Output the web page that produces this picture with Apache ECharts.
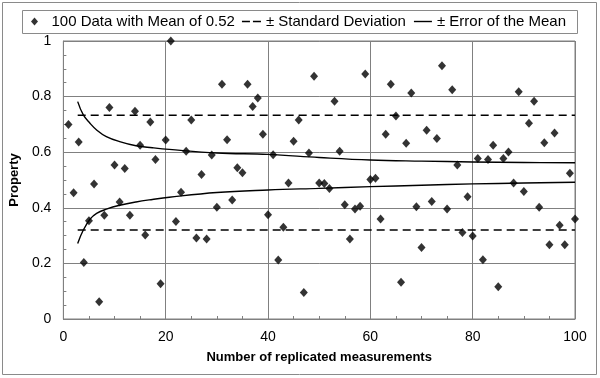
<!DOCTYPE html>
<html>
<head>
<meta charset="utf-8">
<script src="https://cdn.jsdelivr.net/npm/echarts@6/dist/echarts.min.js"></script>
<style>
html,body{margin:0;padding:0;background:#fff;}
#chart{width:600px;height:378px;}
</style>
</head>
<body>
<div id="chart"></div>
<script>
// Measurement values (measurement number = index + 1)
var dataValues = [
  0.700,0.454,0.637,0.203,0.353,0.486,0.062,0.373,0.761,0.554,
  0.421,0.541,0.373,0.747,0.625,0.302,0.709,0.574,0.127,0.644,
  1.000,0.351,0.456,0.603,0.716,0.291,0.520,0.288,0.590,0.402,
  0.844,0.645,0.428,0.544,0.526,0.844,0.764,0.795,0.665,0.375,
  0.591,0.212,0.330,0.489,0.639,0.716,0.095,0.597,0.873,0.489,
  0.487,0.469,0.783,0.603,0.411,0.288,0.396,0.406,0.881,0.502,
  0.506,0.360,0.665,0.844,0.730,0.132,0.632,0.813,0.404,0.257,
  0.679,0.423,0.649,0.911,0.396,0.825,0.554,0.311,0.440,0.299,
  0.577,0.213,0.574,0.625,0.116,0.577,0.601,0.489,0.817,0.459,
  0.704,0.783,0.402,0.634,0.267,0.669,0.337,0.267,0.524,0.360
];
// Standard deviation band
var sdX = [2.8, 100];
var sdUpper = [0.733, 0.733];
var sdLower = [0.320, 0.320];
// Error of the mean curves
var errX     = [2.8, 3.9, 5.2, 6.5, 8.4, 11, 14.2, 17.4, 20.7, 30, 40, 50, 60, 70, 80, 90, 100];
var errUpper = [0.782,0.734,0.704,0.680,0.656,0.638,0.623,0.616,0.610,0.597,0.592,0.581,0.572,0.568,0.565,0.563,0.562];
var errLower = [0.272,0.320,0.359,0.380,0.395,0.409,0.421,0.430,0.438,0.455,0.464,0.470,0.476,0.481,0.486,0.489,0.492];
// Axis ticks
var xTicks = [0, 20, 40, 60, 80, 100];
var yTicks = [0, 0.2, 0.4, 0.6, 0.8, 1];

var nameData = '100 Data with Mean of 0.52';
var nameSD = '\u00B1 Standard Deviation';
var nameErr = '\u00B1 Error of the Mean';

function pairs(xs, ys){ return xs.map(function(x,i){ return [x, ys[i]]; }); }
var scatterData = dataValues.map(function(v,i){ return [i+1, v]; });

var FONT = '"Liberation Sans", Arial, sans-serif';
var chart = echarts.init(document.getElementById('chart'), null, {renderer:'canvas'});
chart.setOption({
  animation: false,
  backgroundColor: '#fff',
  graphic: [
    {type:'rect', shape:{x:2.5,y:2.5,width:594,height:372}, style:{fill:'none', stroke:'#8a8a8a', lineWidth:1}, silent:true, z:-1},
    {type:'rect', shape:{x:22.5,y:10.5,width:555,height:23}, style:{fill:'#fff', stroke:'#8a8a8a', lineWidth:1}, silent:true, z:-1}
  ],
  legend: {
    left: 31, top: 14, itemWidth: 24, itemHeight: 8, itemGap: 2, padding: 0,
    textStyle: {fontFamily: FONT, fontSize: 15, color: '#000'},
    data: [
      {name: nameData, icon: 'path://M3.5,0L7,4L3.5,8L0,4Z'},
      {name: nameSD, icon: 'path://M0,0.8M5,0h8v1.6h-8zM16,0h8v1.6h-8z'},
      {name: nameErr, icon: 'path://M0,4M6,3.3h18v1.4h-18z'}
    ]
  },
  grid: {left: 59, right: 25, top: 41, bottom: 59, show: true, borderColor: '#808080', borderWidth: 1, backgroundColor: '#fff'},
  xAxis: {
    type: 'value', min: xTicks[0], max: xTicks[xTicks.length-1], interval: 20,
    name: 'Number of replicated measurements', nameLocation: 'middle', nameGap: 32,
    nameTextStyle: {fontFamily: FONT, fontSize: 13, fontWeight: 'bold', color: '#000'},
    axisLine: {lineStyle: {color: '#808080'}},
    axisTick: {inside: true, length: 3, lineStyle: {color: '#808080'}},
    minorTick: {show: true, splitNumber: 4, length: 3, lineStyle: {color: '#808080'}},
    axisLabel: {fontFamily: FONT, fontSize: 14, color: '#000', margin: 11},
    splitLine: {show: true, lineStyle: {color: '#808080', width: 1}}
  },
  yAxis: {
    type: 'value', min: yTicks[0], max: yTicks[yTicks.length-1], interval: 0.2,
    name: 'Property', nameLocation: 'middle', nameGap: 38,
    nameTextStyle: {fontFamily: FONT, fontSize: 13, fontWeight: 'bold', color: '#000'},
    axisLine: {show: true, lineStyle: {color: '#808080'}},
    axisTick: {show: true, inside: true, length: 3, lineStyle: {color: '#808080'}},
    minorTick: {show: true, splitNumber: 4, length: 3, lineStyle: {color: '#808080'}},
    axisLabel: {fontFamily: FONT, fontSize: 14, color: '#000', margin: 12},
    splitLine: {show: true, lineStyle: {color: '#808080', width: 1}}
  },
  series: [
    {name: nameSD, type: 'line', data: pairs(sdX, sdUpper), symbol: 'none', z: 2,
     itemStyle: {color: '#000'}, lineStyle: {color: '#000', width: 1.6, type: [8, 5]}},
    {name: nameSD, type: 'line', data: pairs(sdX, sdLower), symbol: 'none', z: 2,
     itemStyle: {color: '#000'}, lineStyle: {color: '#000', width: 1.6, type: [8, 5]}},
    {name: nameErr, type: 'line', data: pairs(errX, errUpper), symbol: 'none', smooth: 0.4, z: 2,
     itemStyle: {color: '#000'}, lineStyle: {color: '#000', width: 1.4}},
    {name: nameErr, type: 'line', data: pairs(errX, errLower), symbol: 'none', smooth: 0.4, z: 2,
     itemStyle: {color: '#000'}, lineStyle: {color: '#000', width: 1.4}},
    {name: nameData, type: 'scatter', data: scatterData, symbol: 'diamond', symbolSize: [8, 9], z: 3,
     itemStyle: {color: '#000'}}
  ]
});
</script>
</body>
</html>
